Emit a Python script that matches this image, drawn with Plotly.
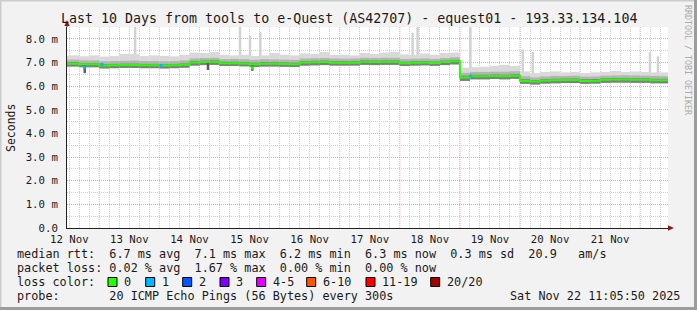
import plotly.graph_objects as go
import pandas as pd

# ---------------- data (ms) ----------------
block_start = "2025-11-12 08:00:00"   # 4-hour consolidation blocks
block_hours = 4
median = [6.95,6.95,6.92,6.92,6.87,6.88,6.89,6.89,6.88,6.88,
          6.87,6.88,6.90,7.00,7.02,7.03,6.97,6.97,6.96,6.93,
          6.95,6.95,6.94,6.93,7.00,7.01,7.02,6.99,6.99,6.99,
          7.03,7.02,7.03,7.03,6.97,6.99,7.00,6.98,7.02,7.05,
          6.36,6.42,6.42,6.43,6.42,6.44,6.22,6.19,6.24,6.25,
          6.26,6.26,6.22,6.23,6.27,6.28,6.28,6.27,6.27,6.25,6.25]
smoke_lo = [6.83,6.83,6.80,6.80,6.75,6.76,6.77,6.77,6.76,6.76,
            6.75,6.76,6.78,6.87,6.89,6.90,6.85,6.85,6.84,6.81,
            6.83,6.83,6.82,6.81,6.87,6.88,6.89,6.87,6.87,6.87,
            6.90,6.89,6.90,6.90,6.85,6.87,6.88,6.86,6.89,6.92,
            6.22,6.29,6.29,6.30,6.29,6.31,6.10,6.07,6.11,6.12,
            6.13,6.13,6.10,6.11,6.14,6.15,6.15,6.14,6.14,6.12,6.12]
smoke_dark = [7.01,7.01,6.98,6.98,6.93,6.94,6.95,6.95,6.94,6.94,
              6.93,6.94,6.96,7.06,7.08,7.09,7.03,7.03,7.02,6.99,
              7.01,7.01,7.00,6.99,7.06,7.07,7.08,7.05,7.05,7.05,
              7.09,7.08,7.09,7.09,7.03,7.05,7.06,7.04,7.08,7.11,
              6.44,6.48,6.48,6.49,6.48,6.50,6.29,6.26,6.30,6.31,
              6.32,6.32,6.29,6.30,6.33,6.34,6.34,6.33,6.33,6.31,6.31]
smoke_mid = [7.12,7.12,7.09,7.09,7.05,7.06,7.07,7.08,7.06,7.06,
             7.05,7.06,7.09,7.17,7.19,7.20,7.14,7.15,7.14,7.11,
             7.14,7.13,7.12,7.11,7.17,7.18,7.19,7.17,7.16,7.17,
             7.20,7.19,7.20,7.20,7.15,7.16,7.17,7.15,7.19,7.22,
             6.56,6.60,6.60,6.61,6.61,6.63,6.42,6.37,6.41,6.43,
             6.43,6.44,6.40,6.41,6.44,6.45,6.46,6.45,6.44,6.43,6.42]
smoke_hi = [7.28,7.30,7.26,7.30,7.25,7.27,7.36,7.35,7.27,7.30,
            7.28,7.26,7.33,7.42,7.40,7.44,7.33,7.30,7.32,7.28,
            7.30,7.40,7.33,7.30,7.38,7.36,7.44,7.32,7.33,7.30,
            7.40,7.36,7.42,7.45,7.34,7.32,7.38,7.33,7.40,7.42,
            6.78,6.80,6.82,6.86,6.90,6.85,6.62,6.55,6.60,6.62,
            6.58,6.60,6.55,6.58,6.60,6.64,6.60,6.62,6.60,6.58,6.58]

spike_times = ["2025-11-13 14:18", "2025-11-15 08:11", "2025-11-15 12:11", "2025-11-15 16:18",
               "2025-11-18 05:06", "2025-11-18 07:06", "2025-11-19 04:11", "2025-11-20 01:06",
               "2025-11-20 05:06", "2025-11-22 03:54", "2025-11-22 07:06"]
spike_tops = [8.6, 8.6, 8.12, 8.28, 8.26, 8.6, 8.6, 7.55, 7.45, 7.43, 7.26]
spike_bases = [7.2, 7.25, 7.2, 7.2, 7.3, 7.3, 6.6, 6.4, 6.4, 6.4, 6.4]

dip_times = ["2025-11-12 18:11", "2025-11-14 19:23", "2025-11-15 13:06"]
dip_lows = [6.55, 6.68, 6.65]
dip_tops = [6.92, 7.00, 6.93]

loss1_times = ["2025-11-12 18:11", "2025-11-13 01:06", "2025-11-14 00:42", "2025-11-19 04:18"]
loss1_vals = [6.80, 6.92, 6.87, 6.43]
loss0_dip_times = ["2025-11-15 13:06"]
loss0_dip_vals = [6.77]

x_start = "2025-11-12 11:05:50"
x_end = "2025-11-22 11:05:50"
day_labels = ["12 Nov", "13 Nov", "14 Nov", "15 Nov", "16 Nov", "17 Nov", "18 Nov", "19 Nov", "20 Nov", "21 Nov"]
day_label_times = ["2025-11-%02d 12:00" % d for d in range(12, 22)]
midnights = ["2025-11-%02d 00:00" % d for d in range(13, 23)]
y_ticks = [0, 1, 2, 3, 4, 5, 6, 7, 8]
y_ticktext = ["0.0", "1.0 m", "2.0 m", "3.0 m", "4.0 m", "5.0 m", "6.0 m", "7.0 m", "8.0 m"]

title = "Last 10 Days from tools to e-Quest (AS42707) - equest01 - 193.33.134.104"
legend_lines = [
    "median rtt:  6.7 ms avg  7.1 ms max  6.2 ms min  6.3 ms now  0.3 ms sd  20.9   am/s",
    "packet loss: 0.02 % avg  1.67 % max  0.00 % min  0.00 % now",
    "loss color:",
    "probe:       20 ICMP Echo Pings (56 Bytes) every 300s",
]
loss_labels = ["0", "1", "2", "3", "4-5", "6-10", "11-19", "20/20"]
loss_colors = ["#26ff00", "#00b8ff", "#0059ff", "#7e00ff", "#e000ff", "#ff5500", "#ff0000", "#a10000"]
date_text = "Sat Nov 22 11:05:50 2025"

# ---------------- figure ----------------
W, H = 697, 310
PL, PR, PT, PB = 67, 668, 27, 228
def px(x): return (x - PL) / (PR - PL)
def py(y): return (PB - y) / (PB - PT)

MONO = "DejaVu Sans Mono"
TXT = "#1a1a1a"

times = pd.date_range(block_start, periods=len(median), freq=f"{block_hours}h")
bw = block_hours * 3600 * 1000

fig = go.Figure()

def band(lo, hi, color):
    fig.add_trace(go.Bar(x=times, y=[h - l for l, h in zip(lo, hi)], base=lo,
                         width=bw, offset=0, marker=dict(color=color, line=dict(width=0)),
                         hoverinfo="skip", showlegend=False))

# spikes (light smoke)
fig.add_trace(go.Bar(x=pd.to_datetime(spike_times), y=[t - b for t, b in zip(spike_tops, spike_bases)],
                     base=spike_bases, width=3600 * 1000, marker=dict(color="#d2d2d2", line=dict(width=0)),
                     hoverinfo="skip", showlegend=False))
band(smoke_lo, smoke_hi, "#d9d9d9")
band(smoke_lo, smoke_mid, "#b4b4b4")
band(smoke_lo, smoke_dark, "#7e7e7e")
fig.add_trace(go.Bar(x=pd.to_datetime(dip_times), y=[t - b for t, b in zip(dip_tops, dip_lows)],
                     base=dip_lows, width=3600 * 1000, marker=dict(color="#5e5e5e", line=dict(width=0)),
                     hoverinfo="skip", showlegend=False))

# median line
mx = list(times) + [times[-1] + pd.Timedelta(hours=block_hours)]
my = median + [median[-1]]
fig.add_trace(go.Scatter(x=mx, y=my, mode="lines", line=dict(color="#26ff00", width=2, shape="hv"),
                         hoverinfo="skip", showlegend=False))
fig.add_trace(go.Scatter(x=pd.to_datetime(loss0_dip_times), y=loss0_dip_vals, mode="markers",
                         marker=dict(symbol="square", size=3, color="#26ff00"), hoverinfo="skip", showlegend=False))
fig.add_trace(go.Scatter(x=pd.to_datetime(loss1_times), y=loss1_vals, mode="markers",
                         marker=dict(symbol="square", size=3, color="#00b8ff"), hoverinfo="skip", showlegend=False))

shapes = []
# midnight major grid lines (red dotted)
for m in midnights:
    shapes.append(dict(type="line", xref="x", yref="paper", x0=m, x1=m, y0=0, y1=1,
                       line=dict(color="#f4a0a0", width=1, dash="1px,1px"), layer="between"))
# axis extensions + arrows
shapes.append(dict(type="line", xref="paper", yref="paper", x0=px(PR), x1=px(671), y0=0, y1=0,
                   line=dict(color="#222", width=1)))
shapes.append(dict(type="line", xref="paper", yref="paper", x0=0, x1=0, y0=1, y1=py(23),
                   line=dict(color="#222", width=1)))
shapes.append(dict(type="path", xref="paper", yref="paper",
                   path=f"M {px(668)},{py(225.3)} L {px(674)},{py(228)} L {px(668)},{py(230.7)} Z",
                   fillcolor="#8b1a1a", line=dict(width=0)))
shapes.append(dict(type="path", xref="paper", yref="paper",
                   path=f"M {px(64.3)},{py(26)} L {px(67)},{py(20)} L {px(69.7)},{py(26)} Z",
                   fillcolor="#8b1a1a", line=dict(width=0)))
# image border
shapes.append(dict(type="rect", xref="paper", yref="paper", x0=px(0), x1=px(697), y0=py(0), y1=py(1.5),
                   fillcolor="#cccccc", line=dict(width=0)))
shapes.append(dict(type="rect", xref="paper", yref="paper", x0=px(0), x1=px(1.5), y0=py(0), y1=py(310),
                   fillcolor="#cccccc", line=dict(width=0)))
shapes.append(dict(type="rect", xref="paper", yref="paper", x0=px(694), x1=px(697), y0=py(0), y1=py(310),
                   fillcolor="#9c9c9c", line=dict(width=0)))
shapes.append(dict(type="rect", xref="paper", yref="paper", x0=px(0), x1=px(697), y0=py(307), y1=py(310),
                   fillcolor="#9c9c9c", line=dict(width=0)))

annotations = []
def text(x, y, s, size=11.8, xanchor="left", color=TXT, angle=0):
    annotations.append(dict(x=px(x), y=py(y), xref="paper", yref="paper", text=s.replace(" ", "\u00a0"),
                            showarrow=False, xanchor=xanchor, yanchor="middle", textangle=angle,
                            font=dict(family=MONO, size=size, color=color), borderpad=0))

text(348.5, 18.5, title, size=13.3, xanchor="center")
text(11, 128, "Seconds", size=11.5, xanchor="center", angle=-90)
text(688, 60, "RRDTOOL / TOBI OETIKER", size=8.3, xanchor="center", color="#aaaaaa", angle=90)
for i, line in enumerate(legend_lines):
    text(16, 254 + i * 14, line)
text(681, 296, date_text, xanchor="right")

box_x = [108, 145.7, 182.7, 220, 256.7, 306.7, 366, 430.7]
for bx, lab, col in zip(box_x, loss_labels, loss_colors):
    shapes.append(dict(type="rect", xref="paper", yref="paper", x0=px(bx), x1=px(bx + 9),
                       y0=py(277.5), y1=py(286.5), fillcolor=col, line=dict(color="#000", width=1)))
    text(bx + 15, 282, lab)

grid_grey = "#cfcfcf"
fig.update_layout(
    width=W, height=H,
    margin=dict(l=PL, r=W - PR, t=PT, b=H - PB, pad=0),
    paper_bgcolor="#f2f2f2", plot_bgcolor="#ffffff",
    barmode="overlay", showlegend=False,
    shapes=shapes, annotations=annotations,
    xaxis=dict(type="date", range=[x_start, x_end], tickmode="array", tickvals=day_label_times,
               ticktext=day_labels, showgrid=False, zeroline=False, showline=True, linecolor="#222",
               linewidth=1, ticks="", ticklabelstandoff=1,
               tickfont=dict(family=MONO, size=10.7, color=TXT),
               minor=dict(dtick=4 * 3600 * 1000, tick0="2025-11-12 00:00", showgrid=True,
                          gridcolor=grid_grey, griddash="1px,1px", gridwidth=1)),
    yaxis=dict(range=[0, 8.5], tickmode="array", tickvals=y_ticks, ticktext=y_ticktext,
               showgrid=True, gridcolor="#f4a0a0", griddash="1px,1px", gridwidth=1,
               zeroline=False, showline=True, linecolor="#222", linewidth=1, ticks="",
               ticklabelstandoff=6, tickfont=dict(family=MONO, size=10.7, color=TXT),
               minor=dict(dtick=0.5, tick0=0, showgrid=True, gridcolor=grid_grey,
                          griddash="1px,1px", gridwidth=1)),
)

fig.write_html("out.html")
